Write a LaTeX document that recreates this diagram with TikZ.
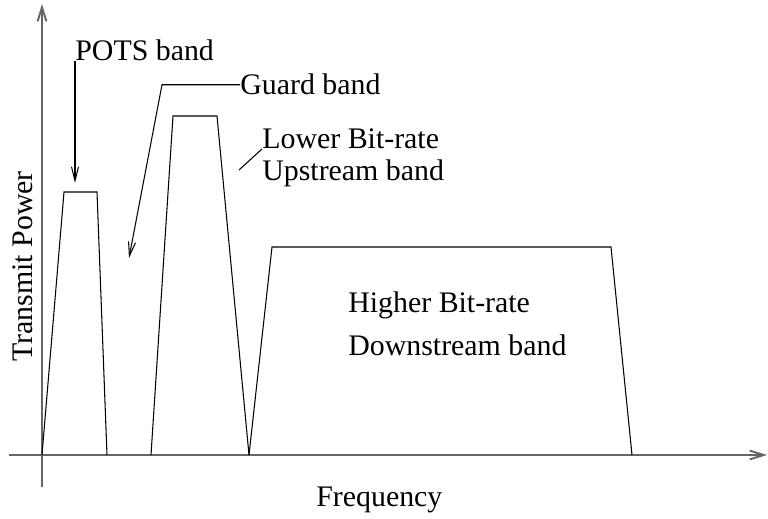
\documentclass[tikz,border=0pt]{standalone}
\usepackage{fontspec}
\setmainfont{Liberation Serif}
\usetikzlibrary{arrows.meta,positioning}

\begin{document}
\begin{tikzpicture}[x=0.02cm,y=-0.02cm,
  axis/.style={line width=1.1pt,black!60,-{Straight Barb[length=8pt,width=5pt]}},
  band/.style={line width=0.6pt,black},
  pointer/.style={line width=0.6pt,black,-{Straight Barb[length=8pt,width=4pt]}},
  lbl/.style={anchor=base west,inner sep=0pt,font=\fontsize{17}{20}\selectfont}]
\useasboundingbox (0,0) rectangle (768,519);

% Draw axes
\draw[axis] (42,487) -- (42,4);
\draw[axis] (9,455) -- (767,455);
\node[lbl] (freq) at (316,507) {Frequency};
\node[lbl,rotate=90] (power) at (32,362) {Transmit Power};

% Bands (base left / top left / top right / base right / top)
\foreach \a/\b/\c/\d/\h in {42/64/97/107/192, 151/173/217/249/116, 249/272/611/632/247}
  \draw[band] (\a,455) -- (\b,\h) -- (\c,\h) -- (\d,455);

% Labels
\node[lbl] (pots) at (75,61) {POTS band};
\node[lbl] (guard) at (240,95) {Guard band};
\node[lbl] (lower) at (262,149) {Lower Bit-rate};
\node[lbl] (upstream) at (262,181) {Upstream band};
\node[lbl] (higher) at (348,313) {Higher Bit-rate};
\node[lbl] (downstream) at (348,356) {Downstream band};

% Pointers
\coordinate (potsTip) at (74,183);
\coordinate (guardBend) at (162,83);
\coordinate (guardTip) at (129,258);
\coordinate (lowerTip) at (239,170);
\draw[pointer] (pots.base west) -- (pots.base west |- potsTip);
\draw[pointer] (guard.west) -- (guard.west -| guardBend) -- (guardTip);
\draw[band] (lower.base west) -- (lowerTip);
\end{tikzpicture}
\end{document}
